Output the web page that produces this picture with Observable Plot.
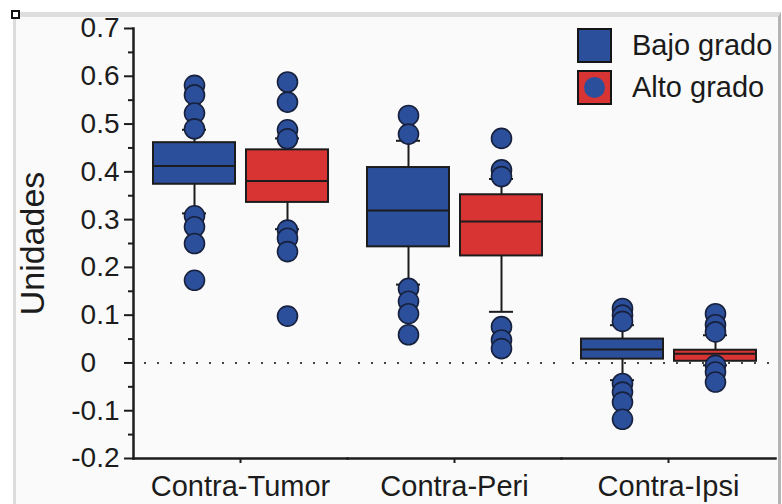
<!DOCTYPE html>
<html>
<head>
<meta charset="utf-8">
<script src="https://cdn.jsdelivr.net/npm/d3@7"></script>
<script src="https://cdn.jsdelivr.net/npm/@observablehq/plot@0.6"></script>
<style>
  html, body { margin: 0; padding: 0; background: #ffffff; }
  #wrap { position: relative; width: 782px; height: 504px; overflow: hidden; font-family: "Liberation Sans", Arial, sans-serif; }
  #panel { position: absolute; left: 13px; top: 12px; width: 762px; height: 487px;
           background: #fafafa; border-left: 3px solid #dcdcdc; border-top: 5px solid #dedede;
           border-right: 3px solid #b4b4b4; border-bottom: 2px solid #cfcfcf; }
  #handle { position: absolute; left: 11px; top: 10px; width: 5px; height: 5px; border: 2px solid #111; background: #fff; }
  #chart { position: absolute; left: 0; top: 0; }
  .legend { position: absolute; left: 577px; font-size: 29px; color: #1a1a1a; }
  .legend .row { position: absolute; left: 0; display: flex; align-items: center; white-space: nowrap; }
  .legend .sw { width: 31px; height: 31px; border: 2px solid #151515; position: relative; margin-right: 20px; }
  .legend .sw .pt { position: absolute; left: 5px; top: 5px; width: 21px; height: 21px; border-radius: 50%; }
</style>
</head>
<body>
<div id="wrap">
  <div id="panel"></div>
  <div id="handle"></div>
  <div id="chart"></div>
  <div class="legend" id="legend"></div>
</div>
<script>
// Comparisons and groups
const categories = ["Contra-Tumor", "Contra-Peri", "Contra-Ipsi"];
const series = ["Bajo grado", "Alto grado"];
const seriesColors = ["#2c4f9c", "#d93434"];
const pointColor = "#2c4f9c";

// Box-plot summaries per comparison (low grade)
const bajoQ1 = [0.374, 0.243, 0.008];
const bajoMedian = [0.412, 0.319, 0.028];
const bajoQ3 = [0.461, 0.409, 0.050];
const bajoLow = [0.313, 0.164, -0.036];
const bajoHigh = [0.488, 0.465, 0.079];

// Box-plot summaries per comparison (high grade)
const altoQ1 = [0.336, 0.224, 0.0035];
const altoMedian = [0.381, 0.296, 0.0195];
const altoQ3 = [0.446, 0.352, 0.0266];
const altoLow = [0.280, 0.107, -0.005];
const altoHigh = [0.470, 0.385, 0.058];

// Points outside the whiskers
const bajoOutliers = [
  [0.581, 0.561, 0.523, 0.490, 0.308, 0.285, 0.250, 0.173],
  [0.518, 0.479, 0.156, 0.129, 0.103, 0.059],
  [0.114, 0.100, 0.087, -0.043, -0.061, -0.082, -0.118]
];
const altoOutliers = [
  [0.588, 0.546, 0.488, 0.469, 0.278, 0.261, 0.233, 0.098],
  [0.470, 0.404, 0.390, 0.076, 0.048, 0.030],
  [0.103, 0.080, 0.065, -0.005, -0.019, -0.040]
];

// Axis ticks
const yTicks = [-0.2, -0.1, 0, 0.1, 0.2, 0.3, 0.4, 0.5, 0.6, 0.7];
const yTickLabels = ["-0.2", "-0.1", "0\u2008\u2007", "0.1", "0.2", "0.3", "0.4", "0.5", "0.6", "0.7"];
const yMinorTicks = [-0.15, -0.05, 0.05, 0.15, 0.25, 0.35, 0.45, 0.55, 0.65];

const stats = {
  "Bajo grado": {q1: bajoQ1, median: bajoMedian, q3: bajoQ3, low: bajoLow, high: bajoHigh, out: bajoOutliers},
  "Alto grado": {q1: altoQ1, median: altoMedian, q3: altoQ3, low: altoLow, high: altoHigh, out: altoOutliers}
};

const boxes = categories.flatMap((category, i) => series.map(s => ({
  category, series: s,
  q1: stats[s].q1[i], median: stats[s].median[i], q3: stats[s].q3[i],
  low: stats[s].low[i], high: stats[s].high[i]
})));
const outliers = categories.flatMap((category, i) => series.flatMap(s =>
  stats[s].out[i].map(value => ({category, series: s, value}))));

const ink = "#1c1c1c";

const chart = Plot.plot({
  width: 782,
  height: 504,
  marginLeft: 132,
  marginRight: 7,
  marginTop: 28,
  marginBottom: 46,
  style: {background: "transparent", fontFamily: "'Liberation Sans', Arial, sans-serif", color: ink},
  fx: {domain: categories, padding: 0},
  x: {domain: series, paddingInner: 0.12, paddingOuter: 0.21, axis: null},
  y: {domain: [-0.2, 0.7]},
  color: {domain: series, range: seriesColors},
  marks: [
    // zero reference line
    Plot.ruleY([0], {stroke: "#444", strokeWidth: 2, strokeDasharray: "2 11", insetLeft: 11}),
    // axes
    Plot.axisY({ticks: yMinorTicks, tickSize: 5, tickFormat: () => "", strokeWidth: 2, label: null}),
    Plot.axisY({ticks: yTicks, tickSize: 9, tickPadding: 5, strokeWidth: 2, fontSize: 28,
                tickFormat: d => yTickLabels[yTicks.indexOf(d)], label: null}),
    Plot.axisY({ticks: [], label: "Unidades", labelAnchor: "center", labelArrow: "none",
                labelOffset: 114, fontSize: 34}),
    Plot.axisFx({anchor: "bottom", tickSize: 5, tickPadding: 12, fontSize: 29, strokeWidth: 2, label: null}),
    Plot.frame({anchor: "left", facetAnchor: "left", stroke: ink, strokeWidth: 2.5}),
    Plot.frame({anchor: "bottom", stroke: ink, strokeWidth: 2.5}),
    // whiskers and caps
    Plot.ruleX(boxes, {fx: "category", x: "series", y1: "q3", y2: "high", stroke: ink, strokeWidth: 2}),
    Plot.ruleX(boxes, {fx: "category", x: "series", y1: "q1", y2: "low", stroke: ink, strokeWidth: 2}),
    Plot.tickY(boxes, {fx: "category", x: "series", y: "high", stroke: ink, strokeWidth: 2, insetLeft: 29, insetRight: 29}),
    Plot.tickY(boxes, {fx: "category", x: "series", y: "low", stroke: ink, strokeWidth: 2, insetLeft: 29, insetRight: 29}),
    // boxes and medians
    Plot.barY(boxes, {fx: "category", x: "series", y1: "q1", y2: "q3", fill: "series", stroke: ink, strokeWidth: 2}),
    Plot.tickY(boxes, {fx: "category", x: "series", y: "median", stroke: ink, strokeWidth: 2}),
    // outlying points
    Plot.dot(outliers, {fx: "category", x: "series", y: "value", r: 10, fill: pointColor, stroke: "#17213d", strokeWidth: 1.6})
  ]
});
document.getElementById("chart").appendChild(chart);

// Legend
const legend = document.getElementById("legend");
series.forEach((s, i) => {
  const row = document.createElement("div");
  row.className = "row";
  row.style.top = (28 + i * 42) + "px";
  const sw = document.createElement("div");
  sw.className = "sw";
  sw.style.background = seriesColors[i];
  if (i === 1) {
    const pt = document.createElement("div");
    pt.className = "pt";
    pt.style.background = pointColor;
    sw.appendChild(pt);
  }
  const label = document.createElement("span");
  label.textContent = s;
  row.appendChild(sw);
  row.appendChild(label);
  legend.appendChild(row);
});
</script>
</body>
</html>
